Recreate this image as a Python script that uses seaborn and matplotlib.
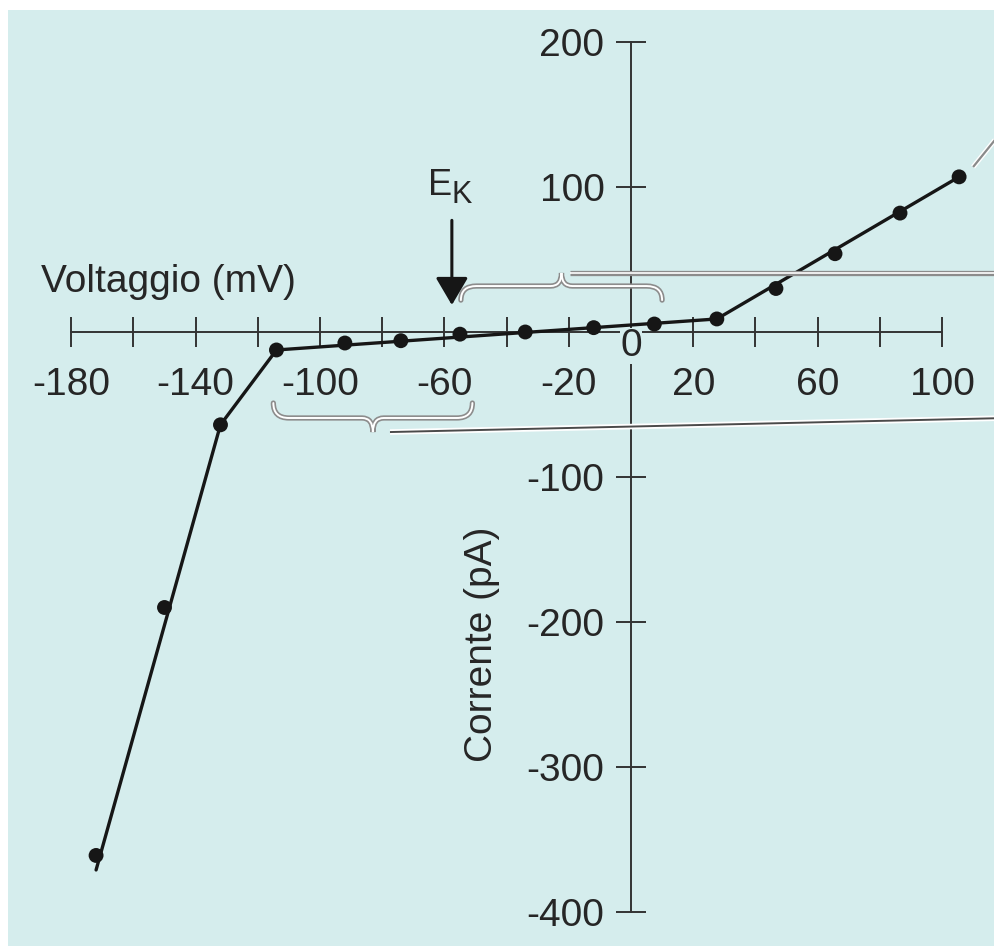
import numpy as np
import pandas as pd
import matplotlib
matplotlib.use("Agg")
import matplotlib.pyplot as plt
import seaborn as sns
from matplotlib.patches import Rectangle, PathPatch
from matplotlib.path import Path
import matplotlib.patheffects as pe

# ---------------- data ----------------
voltage_mv = [-172, -150, -132, -114, -92, -74, -55, -34, -12, 7.5, 27.6, 46.6, 65.6, 86.5, 105.5]
current_pa = [-361, -190, -64, -12.4, -7.6, -6.0, -1.5, 0.0, 3.0, 5.5, 9.0, 30.0, 54.0, 82.0, 107.0]

# fitted I-V relation (piecewise straight segments)
fit_voltage_mv = [-172, -132, -114, 27.6, 105.5]
fit_current_pa = [-371, -64, -12.4, 9.0, 107.0]

x_major_ticks = [-180, -140, -100, -60, -20, 20, 60, 100]
x_minor_ticks = [-160, -120, -80, -40, 40, 80]
y_ticks = [-400, -300, -200, -100, 100, 200]

E_K_mv = -57.6
brace_spans_mv = [(-54.7, 10.0), (-115.0, -51.0)]

x_label = "Voltaggio (mV)"
y_label = "Corrente (pA)"

# ---------------- style ----------------
BG = "#d5eded"
INK = "#161616"
TXT = "#262626"
AX = "#333333"
FS = 28

sns.set_theme(style="white")
plt.rcParams["font.family"] = ["Liberation Sans", "DejaVu Sans"]
plt.rcParams["axes.unicode_minus"] = False

W, H = 994, 946
fig = plt.figure(figsize=(W / 100, H / 100), dpi=100)
fig.patch.set_facecolor("white")
fig.add_artist(Rectangle((8 / W, 0), 1 - 8 / W, 1 - 10 / H, transform=fig.transFigure,
                         facecolor=BG, edgecolor="none", zorder=-1))

ax = fig.add_axes([0, 0, 1, 1])
ax.set_facecolor("none")
ax.set_xlim(-631 / 3.11, (W - 631) / 3.11)
ax.set_ylim((332 - H) / 1.45, 332 / 1.45)

for s in ["top", "right"]:
    ax.spines[s].set_visible(False)
ax.spines["left"].set_position(("data", 0))
ax.spines["bottom"].set_position(("data", 0))
ax.spines["left"].set_bounds(min(y_ticks), max(y_ticks))
ax.spines["bottom"].set_bounds(min(x_major_ticks), max(x_major_ticks))
for s in ["left", "bottom"]:
    ax.spines[s].set_color(AX)
    ax.spines[s].set_linewidth(1.4)
ax.xaxis.set_ticks_position("bottom")
ax.yaxis.set_ticks_position("left")

ax.set_xticks(x_major_ticks)
ax.set_xticks(x_minor_ticks, minor=True)
ax.set_xticklabels([str(v) for v in x_major_ticks])
ax.set_yticks(y_ticks)
ax.set_yticklabels([str(v) for v in y_ticks])
ax.tick_params(axis="both", which="both", direction="inout", length=20.9, width=1.4,
               color=AX, labelcolor=TXT, labelsize=FS)
ax.tick_params(axis="x", which="major", pad=14.8)
ax.tick_params(axis="y", pad=8.7)

# origin label
ax.text(0, -9.6, "0", ha="center", va="center", fontsize=FS, color=TXT, zorder=3,
        bbox=dict(boxstyle="square,pad=0", fc=BG, ec="none"))

# axis titles
ax.set_xlabel(x_label, fontsize=FS, color=TXT, ha="center", va="baseline")
ax.xaxis.set_label_coords(168 / W, 1 - 292 / H)
ax.set_ylabel(y_label, fontsize=FS, color=TXT, ha="center", va="baseline")
ax.yaxis.set_label_coords(492 / W, 1 - 644 / H)

# ---------------- data marks ----------------
sns.lineplot(x=fit_voltage_mv, y=fit_current_pa, sort=False, estimator=None,
             color=INK, linewidth=2.4, ax=ax, zorder=4)
sns.scatterplot(x=voltage_mv, y=current_pa, s=115, color=INK, edgecolor="none",
                ax=ax, zorder=5, legend=False)

# ---------------- annotations ----------------
def brace(x0, x1, y_end, y_bar, y_tip, r_end=5.0, r_tip=3.5):
    xm = (x0 + x1) / 2
    verts = [(x0, y_end), (x0, y_bar), (x0 + r_end, y_bar),
             (xm - r_tip, y_bar),
             (xm, y_bar), (xm, y_tip),
             (xm, y_bar), (xm + r_tip, y_bar),
             (x1 - r_end, y_bar),
             (x1, y_bar), (x1, y_end)]
    codes = [Path.MOVETO, Path.CURVE3, Path.CURVE3, Path.LINETO, Path.CURVE3, Path.CURVE3,
             Path.CURVE3, Path.CURVE3, Path.LINETO, Path.CURVE3, Path.CURVE3]
    return Path(verts, codes)

grey_double = [pe.Stroke(linewidth=3.8, foreground="#8c8c8c"), pe.Normal()]
(u0, u1), (l0, l1) = brace_spans_mv
ax.add_patch(PathPatch(brace(u0, u1, 22, 31.7, 40.7), fill=False, edgecolor="white",
                       lw=1.4, path_effects=grey_double, zorder=6, capstyle="round"))
ax.add_patch(PathPatch(brace(l0, l1, -49, -59.3, -69), fill=False, edgecolor="white",
                       lw=1.4, path_effects=grey_double, zorder=6, capstyle="round"))

# callout lines towards the right edge
ax.plot([-19.6, 117], [40.7, 40.7], color="white", lw=1.2, zorder=6,
        path_effects=grey_double, solid_capstyle="butt")
ax.plot([-77.5, 117], [-69, -59.5], color="#4a4a4a", lw=1.4, zorder=6,
        path_effects=[pe.Stroke(linewidth=4, foreground="white"), pe.Normal()],
        solid_capstyle="butt")
ax.plot([110, 117], [113.8, 132.4], color="#8a8a8a", lw=1.6, zorder=6,
        path_effects=[pe.Stroke(linewidth=3.6, foreground="white"), pe.Normal()],
        solid_capstyle="butt")

# E_K arrow and label
ax.annotate("", xy=(E_K_mv, 18.6), xytext=(E_K_mv, 77),
            arrowprops=dict(arrowstyle="-|>,head_length=0.85,head_width=0.5",
                            color=INK, lw=2.2, shrinkA=0, shrinkB=0, mutation_scale=20),
            zorder=7)
ax.text(E_K_mv, 94.5, "E", ha="right", va="baseline", fontsize=26, color=TXT)
ax.text(E_K_mv, 89.0, "K", ha="left", va="baseline", fontsize=22, color=TXT)

fig.savefig("out.png", dpi=100, facecolor="white")
